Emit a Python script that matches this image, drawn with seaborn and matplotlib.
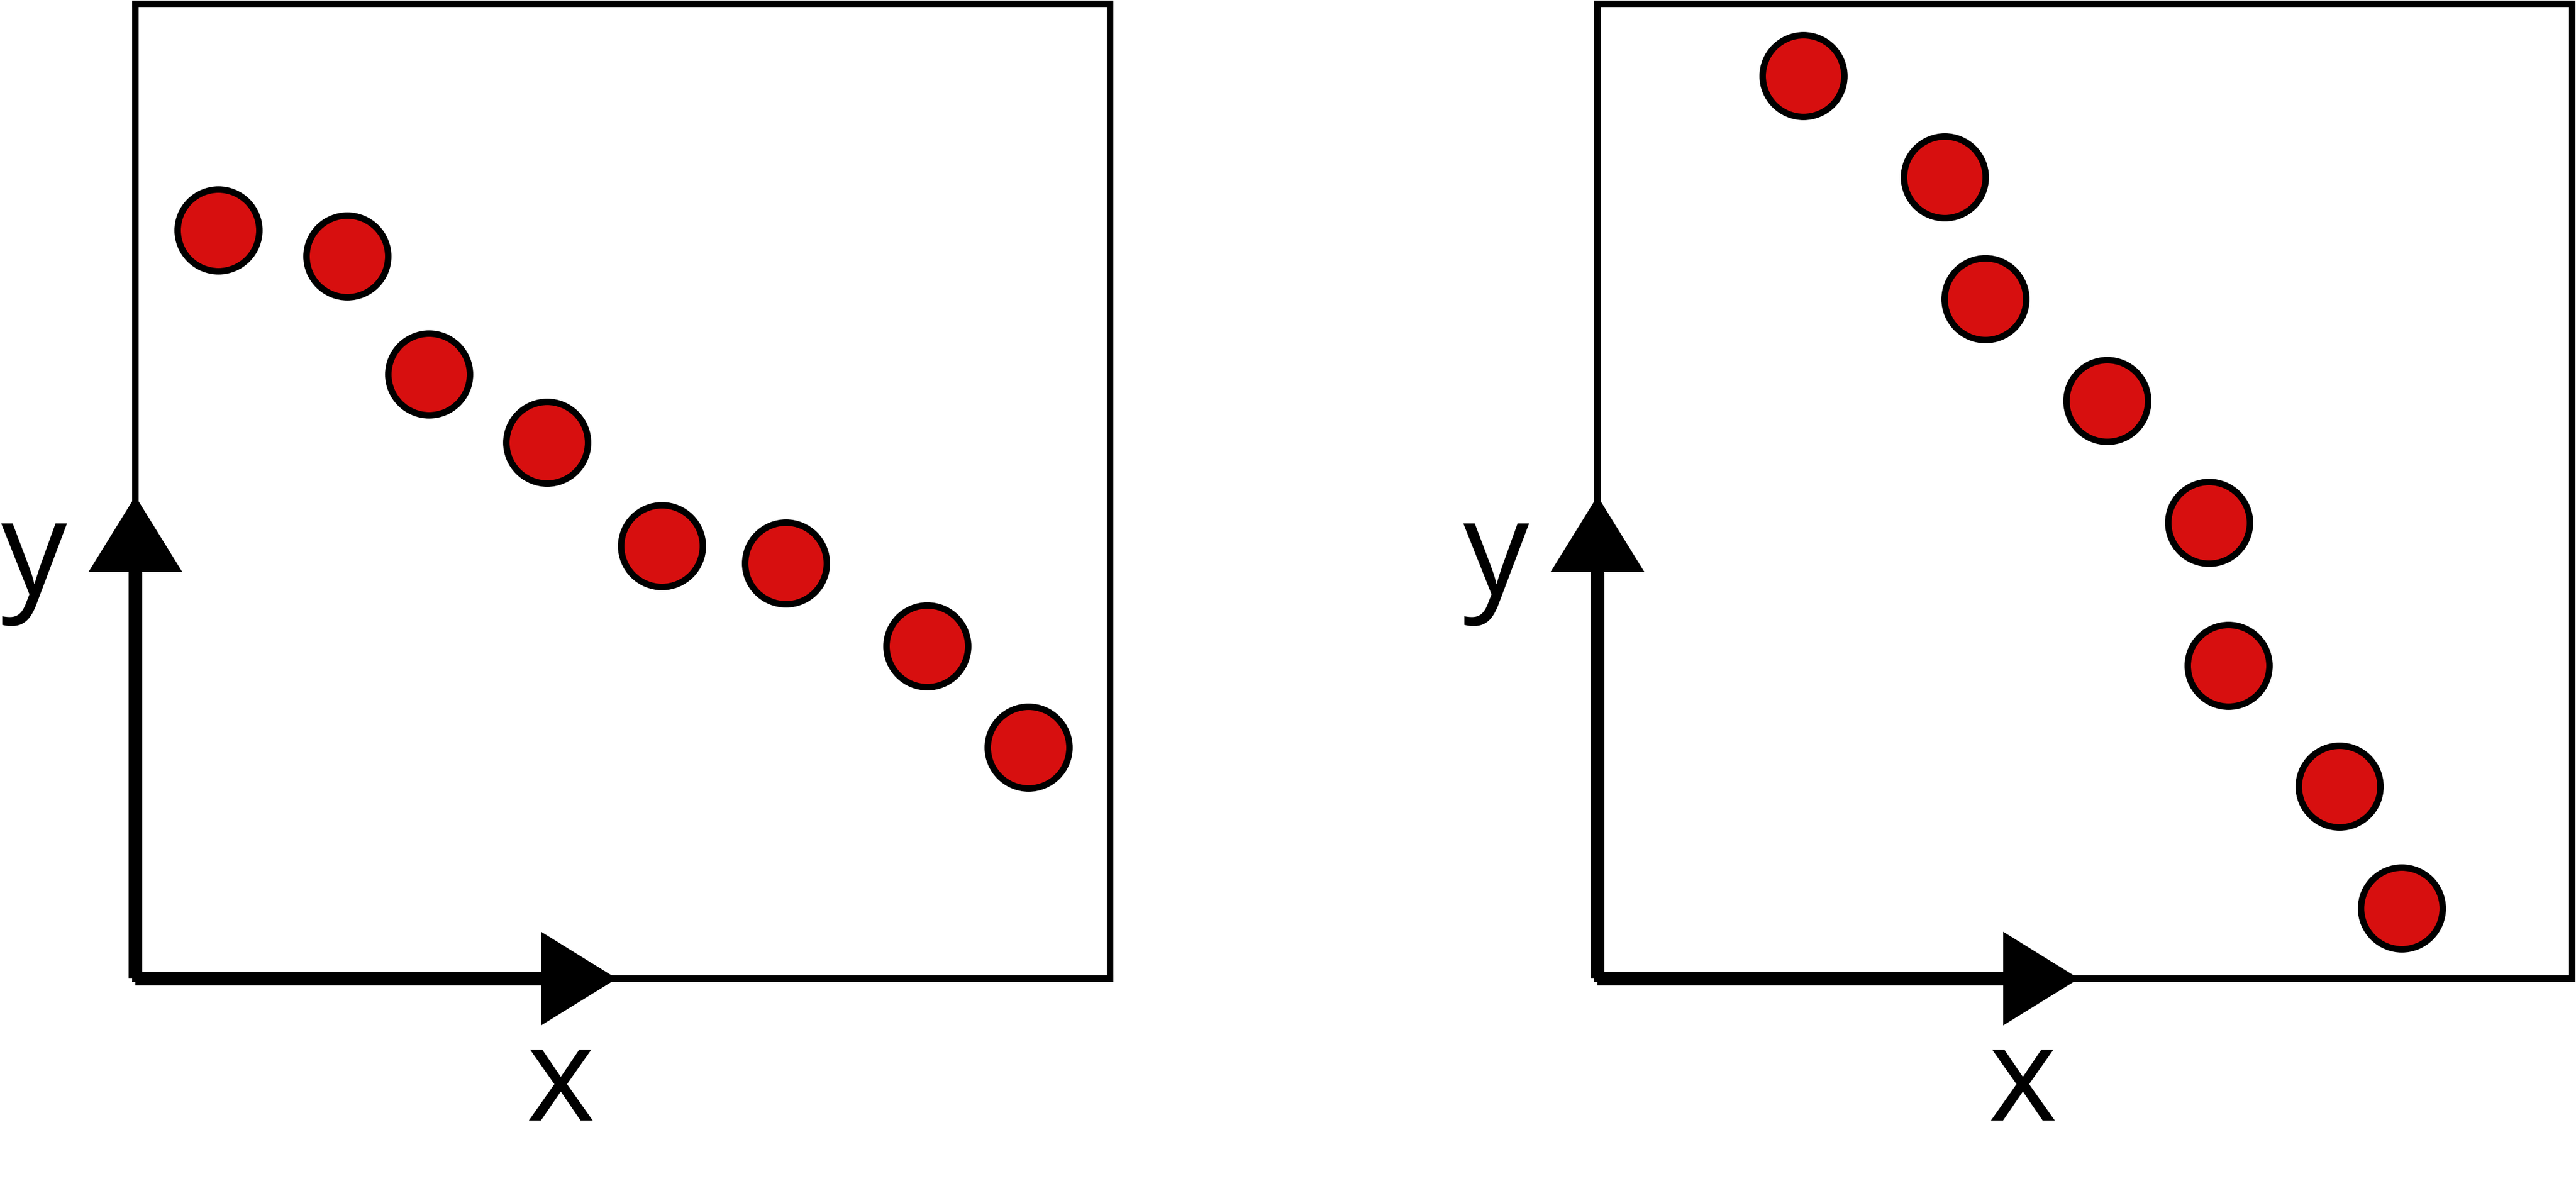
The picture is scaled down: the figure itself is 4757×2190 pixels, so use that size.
import matplotlib
matplotlib.use("Agg")
import matplotlib.pyplot as plt
from matplotlib.patches import FancyArrow
import seaborn as sns
import pandas as pd

# Data (axes-fraction units, 0..1)
left_x = [0.085, 0.217, 0.301, 0.422, 0.540, 0.667, 0.812, 0.916]
left_y = [0.768, 0.741, 0.620, 0.550, 0.444, 0.426, 0.341, 0.237]
right_x = [0.211, 0.356, 0.398, 0.523, 0.627, 0.647, 0.761, 0.825]
right_y = [0.926, 0.822, 0.697, 0.593, 0.468, 0.321, 0.197, 0.072]
axis_labels = ["x", "y"]

sns.set_style("white")
plt.rcParams["font.family"] = ["Open Sans", "DejaVu Sans"]

W, H = 4757, 2190
DPI = 100
fig = plt.figure(figsize=(W / DPI, H / DPI), dpi=DPI)

ax_w = 1800 / W
ax_h = 1800 / H
bottom = (H - 1807) / H
ax1 = fig.add_axes([250 / W, bottom, ax_w, ax_h])
ax2 = fig.add_axes([2950 / W, bottom, ax_w, ax_h])

red = "#d70f0f"
for ax, xs, ys in [(ax1, left_x, left_y), (ax2, right_x, right_y)]:
    df = pd.DataFrame({"x": xs, "y": ys})
    sns.scatterplot(data=df, x="x", y="y", ax=ax, s=11800, color=red,
                    edgecolor="black", linewidth=8.6, zorder=3, legend=False)
    ax.set_xlim(0, 1)
    ax.set_ylim(0, 1)
    ax.set_xticks([])
    ax.set_yticks([])
    ax.set_xlabel("")
    ax.set_ylabel("")
    for sp in ax.spines.values():
        sp.set_visible(True)
        sp.set_linewidth(8.6)
        sp.set_color("black")
    ax.set_facecolor("white")
    # thick arrows from origin
    lw = 25 / 1800
    hw = 173 / 1800
    hl = 140 / 1800
    ax.add_patch(FancyArrow(0, 0, 0.494, 0, width=lw, head_width=hw, head_length=hl,
                            length_includes_head=True, transform=ax.transAxes,
                            color="black", clip_on=False, zorder=4, linewidth=0))
    ax.add_patch(FancyArrow(0, 0, 0, 0.495, width=lw, head_width=hw, head_length=hl,
                            length_includes_head=True, transform=ax.transAxes,
                            color="black", clip_on=False, zorder=4, linewidth=0))
    ax.text(0.436, -0.1456, axis_labels[0], transform=ax.transAxes, ha="center",
            va="baseline", fontsize=175, color="black")
    ax.text(-0.104, 0.394, axis_labels[1], transform=ax.transAxes, ha="center",
            va="baseline", fontsize=175, color="black")

fig.savefig("out.png", dpi=DPI, facecolor="white")
